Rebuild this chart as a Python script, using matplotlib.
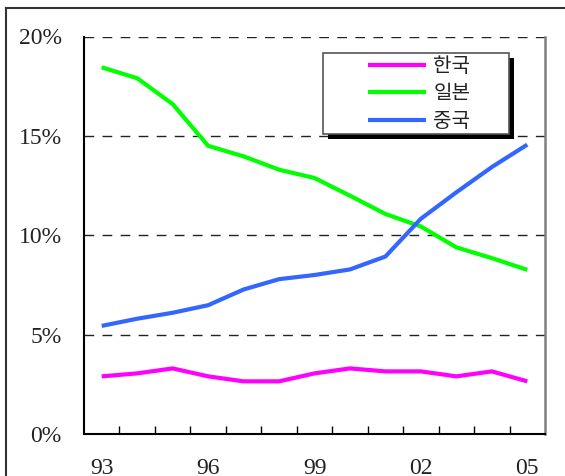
import numpy as np
import matplotlib
matplotlib.use('Agg')
import matplotlib.pyplot as plt
from matplotlib.patches import Rectangle
from matplotlib.lines import Line2D

years = ['93', '94', '95', '96', '97', '98', '99', '00', '01', '02', '03', '04', '05']
korea = [2.9, 3.05, 3.3, 2.9, 2.65, 2.65, 3.05, 3.3, 3.15, 3.15, 2.9, 3.15, 2.65]
japan = [18.45, 17.9, 16.6, 14.5, 13.97, 13.3, 12.88, 11.99, 11.07, 10.44, 9.39, 8.85, 8.26]
china = [5.44, 5.8, 6.1, 6.48, 7.27, 7.79, 8.0, 8.28, 8.93, 10.83, 12.16, 13.43, 14.56]
labels = ['한국', '일본', '중국']
colors = ['#FF00FF', '#00FF00', '#3366FF']
yticks = [0, 5, 10, 15, 20]
ytick_labels = ['0%', '5%', '10%', '15%', '20%']
shown_years = [0, 3, 6, 9, 12]

serif = 'Liberation Serif'
kr_font = ['Noto Sans CJK KR', 'DejaVu Sans']

fig = plt.figure(figsize=(5.65, 4.76), dpi=100)
ax = fig.add_axes([84 / 565, 42 / 476, 461 / 565, 397.5 / 476])

x = np.arange(len(years))
for series, lab, col in zip([korea, japan, china], labels, colors):
    ax.plot(x, series, color=col, lw=3.0, label=lab, zorder=3,
            solid_joinstyle='miter', solid_capstyle='butt')

ax.set_xlim(-0.5, len(years) - 0.5)
ax.set_ylim(0, 20)

# dashed grid lines at 5, 10, 15, 20
for v in yticks[1:]:
    ax.axhline(v, color='#222222', lw=1.0, ls=(0, (7, 6)), zorder=1)

ax.set_yticks(yticks)
ax.set_yticklabels(ytick_labels, fontfamily=serif, fontsize=17, color='#222222')
ax.tick_params(axis='y', length=0, pad=16)

ax.set_xticks(shown_years)
ax.set_xticklabels([years[i] for i in shown_years], fontfamily=serif,
                   fontsize=17, color='#222222')
ax.set_xticks(np.arange(0.5, len(years) - 1, 1), minor=True)
ax.tick_params(axis='x', which='major', length=0, pad=17)
ax.tick_params(axis='x', which='minor', direction='in', length=6, width=1,
               color='black')

ax.spines['top'].set_visible(False)
ax.spines['left'].set_linewidth(1.5)
ax.spines['bottom'].set_linewidth(1.5)
ax.spines['right'].set_color('#808080')
ax.spines['right'].set_linewidth(1.8)

# legend box with a solid black drop shadow
bx, by, bw, bh = (322.7 - 84) / 461, (434 - 134) / 397.5, 186.3 / 461, 81.3 / 397.5
ax.add_patch(Rectangle((bx + 5 / 461, by - 5 / 397.5), bw, bh, transform=ax.transAxes,
                       fc='black', ec='none', zorder=4))
ax.add_patch(Rectangle((bx, by), bw, bh, transform=ax.transAxes,
                       fc='white', ec='#555555', lw=1.2, zorder=5))
leg = ax.legend(loc='upper left', bbox_to_anchor=((367.7 - 84) / 461, (434 - 56) / 397.5),
                frameon=False, borderaxespad=0, borderpad=0, handlelength=2.9,
                handletextpad=0.35, labelspacing=0.32, prop={'family': kr_font, 'size': 14.5})
leg.set_zorder(6)
for t in leg.get_texts():
    t.set_color('#222222')

# outer frame around the whole chart
fig.add_artist(Line2D([6 / 565, 6 / 565], [0, 1 - 8 / 476], color='#333333', lw=1.5))
fig.add_artist(Line2D([6 / 565, 1], [1 - 8 / 476, 1 - 8 / 476], color='#333333', lw=1.5))

fig.savefig('out.png', dpi=100)
